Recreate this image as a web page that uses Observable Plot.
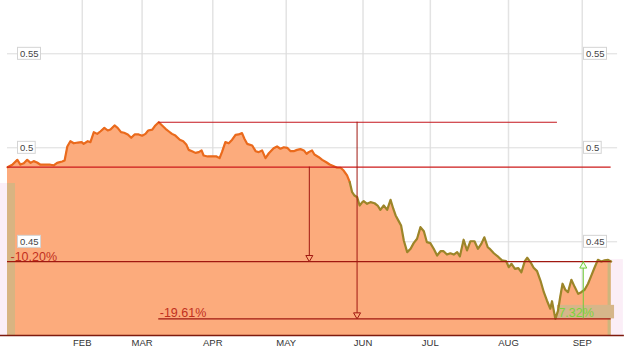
<!DOCTYPE html>
<html><head><meta charset="utf-8">
<script src="https://cdn.jsdelivr.net/npm/d3@7"></script>
<script src="https://cdn.jsdelivr.net/npm/@observablehq/plot@0.6"></script>
<style>
html,body{margin:0;padding:0;background:#fff;}
#chart{width:628px;height:355px;overflow:hidden;}
svg{display:block;font-family:"Liberation Sans",Arial,sans-serif;}
</style></head><body><div id="chart"></div>
<script>
// trading-day position of each traced point
const days = [0,1.4,2.9,3.8,4.8,5.8,6.8,7.7,8.7,9.7,
11.2,12.6,13.6,14.6,16.1,16.8,17.6,18.5,19.5,20.7,
21.8,22.4,23.6,24.4,25.4,26.4,27.4,28.5,29.5,30.3,
31.5,32.4,33.4,34.3,35.4,36.4,37.4,38.6,39.6,40.6,
41.4,42.6,43.5,44.5,45.5,46.5,47.4,48.4,49.4,50.7,
51.7,52.6,53.3,54.3,55.3,56.3,57.1,57.7,58.9,60.2,
61.5,62.4,63.1,64.1,65.1,66.1,67.1,68.0,69.0,69.7,
70.5,72.0,73.0,73.9,74.9,75.9,76.9,78.3,79.3,80.3,
81.3,82.3,83.3,84.2,85.2,86.2,87.2,88.0,88.6,89.6,
90.3,91.6,92.6,93.8,94.8,96.0,97.0,98.0,98.9,99.9,
100.7,101.4,102.1,102.9,103.6,104.4,104.8,105.8,106.8,108.0,
108.9,109.7,110.7,111.7,112.7,113.5,114.2,115.1,115.8,116.6,
117.6,118.6,119.5,120.5,121.5,122.5,123.4,124.4,125.4,126.4,
127.4,128.3,129.3,130.3,131.3,132.3,133.1,134.2,135.2,136.2,
137.4,138.4,139.4,140.3,141.3,141.8,143.1,144.5,145.5,146.7,
147.5,148.3,149.3,150.3,151.2,152.2,152.9,153.9,154.8,155.8,
156.8,157.8,158.7,159.7,160.2,161.2,162.0,162.6,163.3,164.1,
164.9,165.9,166.9,167.9,168.8,169.8,170.8,171.8,172.7,173.7,
174.7,175.7,176.7,177.6];
const values = [0.4897,0.4910,0.4936,0.4911,0.4918,0.4936,0.4920,0.4929,0.4922,0.4910,
0.4911,0.4910,0.4907,0.4920,0.4927,0.4932,0.5007,0.5035,0.5024,0.5028,
0.5030,0.5021,0.5035,0.5030,0.5083,0.5074,0.5088,0.5106,0.5092,0.5097,
0.5119,0.5106,0.5083,0.5080,0.5071,0.5053,0.5071,0.5071,0.5064,0.5074,
0.5092,0.5097,0.5119,0.5136,0.5119,0.5101,0.5088,0.5074,0.5065,0.5043,
0.5035,0.5018,0.4989,0.4982,0.4973,0.4977,0.4986,0.4959,0.4954,0.4955,
0.4954,0.4945,0.4977,0.5030,0.5024,0.5043,0.5069,0.5071,0.5078,0.5048,
0.5021,0.5012,0.4982,0.4977,0.4986,0.4945,0.4971,0.4998,0.5007,0.4995,
0.5003,0.5000,0.4982,0.4982,0.4989,0.4993,0.4986,0.4968,0.4977,0.4986,
0.4964,0.4950,0.4936,0.4923,0.4911,0.4902,0.4894,0.4894,0.4879,0.4853,
0.4817,0.4764,0.4746,0.4737,0.4693,0.4711,0.4716,0.4702,0.4711,0.4705,
0.4693,0.4670,0.4693,0.4670,0.4723,0.4676,0.4640,0.4610,0.4587,0.4507,
0.4445,0.4463,0.4493,0.4516,0.4578,0.4556,0.4498,0.4493,0.4463,0.4427,
0.4450,0.4450,0.4432,0.4439,0.4432,0.4445,0.4423,0.4511,0.4454,0.4503,
0.4503,0.4463,0.4489,0.4524,0.4471,0.4464,0.4439,0.4418,0.4401,0.4397,
0.4365,0.4383,0.4356,0.4360,0.4338,0.4397,0.4415,0.4391,0.4362,0.4344,
0.4294,0.4232,0.4188,0.4144,0.4184,0.4090,0.4135,0.4205,0.4277,0.4245,
0.4232,0.4298,0.4259,0.4223,0.4232,0.4245,0.4277,0.4321,0.4362,0.4404,
0.4395,0.4401,0.4404,0.4395];
const monthDays = [22.0, 39.6, 60.4, 82.0, 104.6, 124.4, 147.4, 169.1];
const monthLabels = ["FEB","MAR","APR","MAY","JUN","JUL","AUG","SEP"];
const yTicks = [0.45, 0.5, 0.55];
const yTickLabels = ["0.45", "0.5", "0.55"];
const changeLabels = ["-10.20%", "-19.61%", "7.32%"];
const colorChangeDay = 100.7;
const leftBandTop = 0.481;

const xDomain = [0, 178];
const yDomain = [0.40016, 0.57835];

const data = days.map((d, i) => ({day: d, value: values[i]}));
const n = data.length;
const start = data[0], last = data[n - 1];
const peak = data.reduce((a, b) => b.value > a.value ? b : a);
const low = data.reduce((a, b) => b.value < a.value ? b : a);
const orangePart = data.filter(d => d.day <= colorChangeDay);
const olivePart = data.filter(d => d.day >= colorChangeDay);

const FILL = "#fcab7c";
const RED = "#cc1a1a";
const DARKRED = "#a01810";
const GREEN = "#70cc38";

const plot = Plot.plot({
  width: 628, height: 355,
  marginTop: 0, marginBottom: 20, marginLeft: 7, marginRight: 16,
  x: {type: "linear", domain: xDomain, axis: null},
  y: {domain: yDomain, axis: null},
  style: {fontFamily: "'Liberation Sans', Arial, sans-serif", background: "#fff"},
  marks: [
    Plot.ruleX(monthDays, {x: d => d, stroke: "#e3e3e3", strokeWidth: 1.5}),
    Plot.ruleY(yTicks, {y: d => d, x1: xDomain[0], x2: xDomain[1] + 1.5, stroke: "#dcdcdc"}),
    // pale highlight strips outside the fill
    Plot.rect([0], {x1: xDomain[0] - 2.1, x2: start.day, y1: yDomain[0], y2: leftBandTop, fill: "#fbeef7"}),
    Plot.rect([0], {x1: last.day, x2: last.day + 3.6, y1: yDomain[0], y2: last.value + 0.001, fill: "#fbeef7"}),
    Plot.areaY(data, {x: "day", y1: yDomain[0], y2: "value", fill: FILL}),
    // tan highlight strips inside the fill
    Plot.rect([0], {x1: start.day, x2: start.day + 2.35, y1: yDomain[0], y2: leftBandTop, fill: "#d8b482"}),
    Plot.rect([0], {x1: last.day - 0.9, x2: last.day, y1: yDomain[0], y2: last.value, fill: "#cdb57c"}),
    Plot.rect([0], {x1: low.day + 0.6, x2: last.day + 1, y1: low.value, y2: low.value + 0.0072, fill: "#d6b68a"}),
    Plot.line(orangePart, {x: "day", y: "value", stroke: "#ea6a1c", strokeWidth: 2.2, curve: "linear"}),
    Plot.line(olivePart, {x: "day", y: "value", stroke: "#9c8529", strokeWidth: 2.2, curve: "linear"}),
    // horizontal reference lines
    Plot.ruleY([start], {y: "value", x1: start.day, x2: last.day, stroke: RED, strokeWidth: 1.2}),
    Plot.ruleY([peak], {y: "value", x1: peak.day, x2: low.day + 0.6, stroke: "#c4161c", strokeWidth: 1.2}),
    Plot.ruleY([low], {y: "value", x1: peak.day, x2: last.day, stroke: DARKRED, strokeWidth: 1.2}),
    Plot.ruleY([last], {y: "value", x1: start.day, x2: last.day, stroke: DARKRED, strokeWidth: 1.2}),
    // vertical change arrows
    Plot.ruleX([0], {x: (start.day + last.day) / 2, y1: start.value, y2: last.value, stroke: DARKRED, strokeWidth: 1}),
    Plot.ruleX([0], {x: (peak.day + low.day) / 2, y1: peak.value, y2: low.value, stroke: DARKRED, strokeWidth: 1}),
    Plot.ruleX([0], {x: (low.day + last.day) / 2, y1: low.value, y2: last.value, stroke: GREEN, strokeWidth: 1}),
    Plot.dot([0], {x: (start.day + last.day) / 2, y: last.value, symbol: "triangle", rotate: 180, r: 2.6, dy: -4, fill: FILL, stroke: DARKRED, strokeWidth: 1}),
    Plot.dot([0], {x: (peak.day + low.day) / 2, y: low.value, symbol: "triangle", rotate: 180, r: 2.6, dy: -4, fill: FILL, stroke: DARKRED, strokeWidth: 1}),
    Plot.dot([0], {x: (low.day + last.day) / 2, y: last.value, symbol: "triangle", r: 2.6, dy: 4.5, fill: "#f2fdee", stroke: GREEN, strokeWidth: 1}),
    // change labels
    Plot.text([changeLabels[0]], {x: start.day, y: last.value, text: d => d, textAnchor: "start", dx: 3, dy: -5, fontSize: 12.5, fill: "#c2301e"}),
    Plot.text([changeLabels[1]], {x: peak.day, y: low.value, text: d => d, textAnchor: "start", dx: 1, dy: -6, fontSize: 12.5, fill: "#c2301e"}),
    Plot.text([changeLabels[2]], {x: low.day, y: low.value, text: d => d, textAnchor: "start", dx: 3, dy: -6, fontSize: 12.5, fill: "#7ad43c"}),
    // bottom axis line
    Plot.ruleY([yDomain[0]], {y: d => d, x1: xDomain[0] - 2.1, x2: xDomain[1] + 3.5, stroke: "#7e1a0e", strokeWidth: 1.5}),
    // month labels
    Plot.text(monthDays, {x: d => d, frameAnchor: "bottom", lineAnchor: "top", dy: 4, text: (d, i) => monthLabels[i], fontSize: 9.5, fill: "#333"}),
    // y labels (boxed)
    Plot.text(yTicks, {y: d => d, frameAnchor: "left", textAnchor: "start", dx: 12.5, text: (d, i) => yTickLabels[i], fontSize: 9.5, fill: "#444"}),
    Plot.text(yTicks, {y: d => d, frameAnchor: "right", textAnchor: "start", dx: -26.5, text: (d, i) => yTickLabels[i], fontSize: 9.5, fill: "#444"})
  ]
});
document.getElementById("chart").append(plot);
const labelSet = new Set(yTickLabels);
d3.select(plot).selectAll("text").filter(function() { return labelSet.has(this.textContent); }).each(function() {
  const bb = this.getBBox();
  const t = this.getAttribute("transform");
  const r = d3.select(this.parentNode).insert("rect", () => this)
    .attr("x", bb.x - 2.5).attr("y", bb.y - 0.5)
    .attr("width", bb.width + 4.5).attr("height", bb.height + 1)
    .attr("fill", "#fff").attr("stroke", "#d4d4d4").attr("stroke-width", 1);
  if (t) r.attr("transform", t);
  const xa = this.getAttribute("x"), ya = this.getAttribute("y");
  if (xa && !bb.x) r.attr("x", +xa - 2.5);
});
</script>
</body></html>
